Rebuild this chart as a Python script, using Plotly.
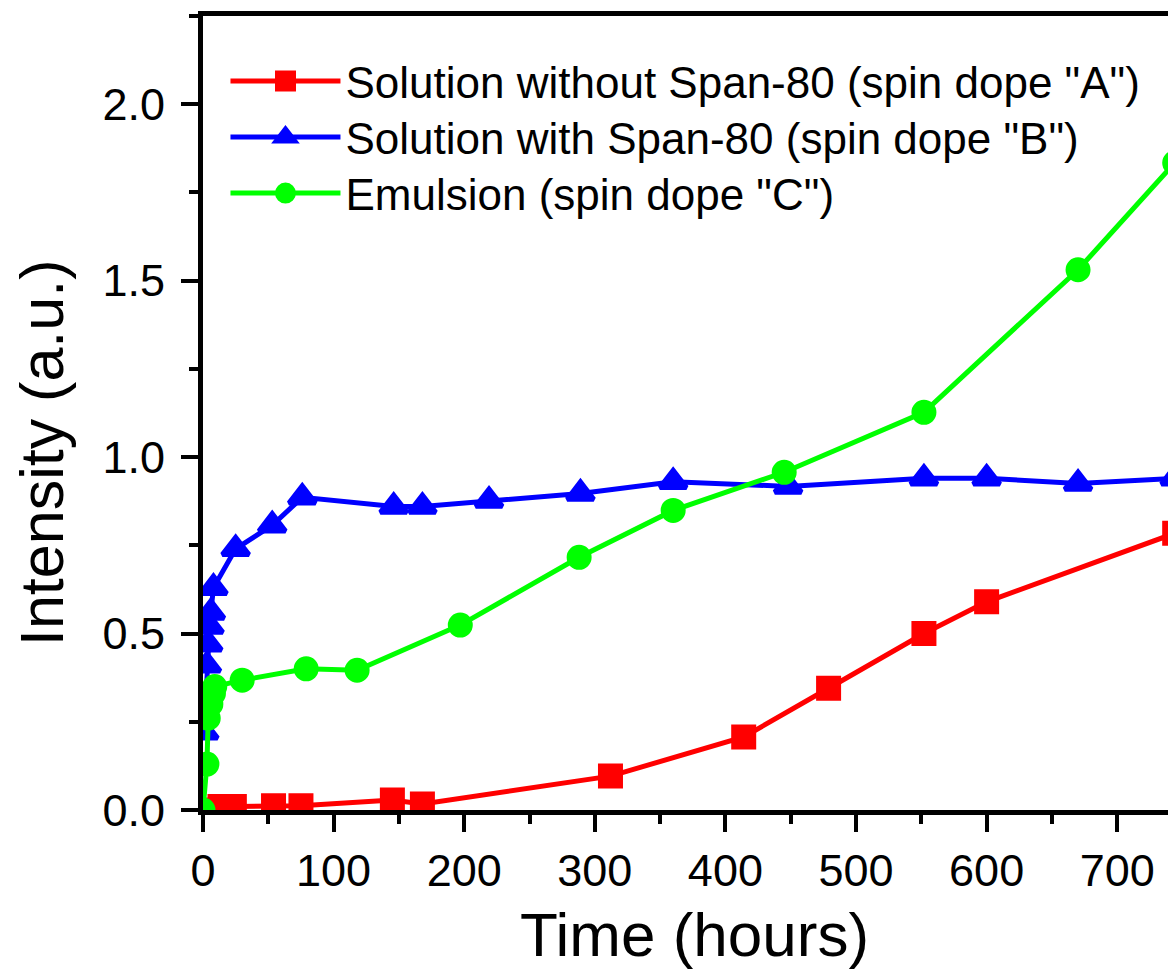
import plotly.graph_objects as go

# ---- data ----
red_x = [0, 13, 24, 54, 75, 145, 168, 312, 414, 479, 552, 600, 744]
red_y = [0.0, 0.010, 0.010, 0.012, 0.012, 0.028, 0.017, 0.096, 0.207, 0.345, 0.500, 0.590, 0.784]

blue_x = [1, 2, 3, 4, 5, 6, 8, 25, 53, 76, 146, 168, 219, 289, 360, 448, 552, 600, 670, 744]
blue_y = [0.22, 0.30, 0.41, 0.47, 0.52, 0.56, 0.63, 0.74, 0.807, 0.886, 0.86, 0.86, 0.877, 0.897, 0.93, 0.917, 0.94, 0.94, 0.925, 0.94]

green_x = [0, 3, 4, 6, 8, 9, 30, 79, 118, 197, 288, 360, 445, 552, 670, 744]
green_y = [0.0, 0.13, 0.26, 0.30, 0.33, 0.35, 0.368, 0.40, 0.396, 0.524, 0.716, 0.849, 0.957, 1.127, 1.531, 1.834]

names = ['Solution without Span-80 (spin dope "A")',
         'Solution with Span-80 (spin dope "B")',
         'Emulsion (spin dope "C")']
colors = ["#FF0000", "#0000FF", "#00FF00"]

x_title = "Time (hours)"
y_title = "Intensity (a.u.)"

FONT = "Liberation Sans, Arial, sans-serif"

# the page body adds an 8px margin; the figure is sized so that it ends at the window edge
W, H = 1168, 963
ML, MT = 195, 8
PLOT_W = W - ML          # 973
PLOT_H = 802 - MT        # 794
MB = H - 802

fig = go.Figure()
fig.add_trace(go.Scatter(x=red_x, y=red_y, mode="lines+markers", name=names[0], legend="legend",
                         line=dict(color=colors[0], width=5),
                         marker=dict(symbol="square", size=20, color=colors[0],
                                     line=dict(color=colors[0], width=5))))
fig.add_trace(go.Scatter(x=blue_x, y=blue_y, mode="lines+markers", name=names[1], legend="legend2",
                         line=dict(color=colors[1], width=5),
                         marker=dict(symbol="triangle-up", size=23, color=colors[1],
                                     line=dict(color=colors[1], width=5))))
fig.add_trace(go.Scatter(x=green_x, y=green_y, mode="lines+markers", name=names[2], legend="legend3",
                         line=dict(color=colors[2], width=5),
                         marker=dict(symbol="circle", size=20, color=colors[2],
                                     line=dict(color=colors[2], width=5))))


def legend_box(row_top_px):
    return dict(x=0.0231, y=1 - (row_top_px - 16) / PLOT_H, xanchor="left", yanchor="top",
                bgcolor="rgba(0,0,0,0)", font=dict(size=44, family=FONT, color="black"),
                itemwidth=110, tracegroupgap=0)


fig.update_layout(
    width=W, height=H,
    margin=dict(l=ML, r=0, t=MT, b=MB, pad=0),
    paper_bgcolor="white", plot_bgcolor="white",
    font=dict(family=FONT, color="black"),
    showlegend=True,
    legend=legend_box(46),
    legend2=legend_box(102),
    legend3=legend_box(158),
    annotations=[
        dict(text=x_title, xref="paper", yref="paper", x=(694 - 203) / PLOT_W, y=(810 - 934) / PLOT_H,
             xanchor="center", yanchor="middle", showarrow=False,
             font=dict(size=62, family=FONT, color="black")),
        dict(text=y_title, xref="paper", yref="paper", x=(42 - 203) / PLOT_W, y=(810 - 453) / PLOT_H,
             xanchor="center", yanchor="middle", showarrow=False, textangle=-90,
             font=dict(size=61, family=FONT, color="black")),
    ],
)

fig.update_xaxes(range=[0, 745], showgrid=False, zeroline=False,
                 showline=True, linecolor="black", linewidth=5, mirror=True,
                 ticks="outside", ticklen=17, tickwidth=4, tickcolor="black",
                 dtick=100, tick0=0, tickfont=dict(size=45, family=FONT, color="black"),
                 minor=dict(ticks="outside", ticklen=9, tickwidth=4, tickcolor="black", dtick=50))
fig.update_yaxes(range=[0, 2.25], showgrid=False, zeroline=False,
                 showline=True, linecolor="black", linewidth=5, mirror=False,
                 ticks="outside", ticklen=17, tickwidth=4, tickcolor="black",
                 dtick=0.5, tick0=0, tickformat=".1f", ticklabelstandoff=7,
                 tickfont=dict(size=45, family=FONT, color="black"),
                 minor=dict(ticks="outside", ticklen=9, tickwidth=4, tickcolor="black", dtick=0.25))

fig.write_html("out.html")
